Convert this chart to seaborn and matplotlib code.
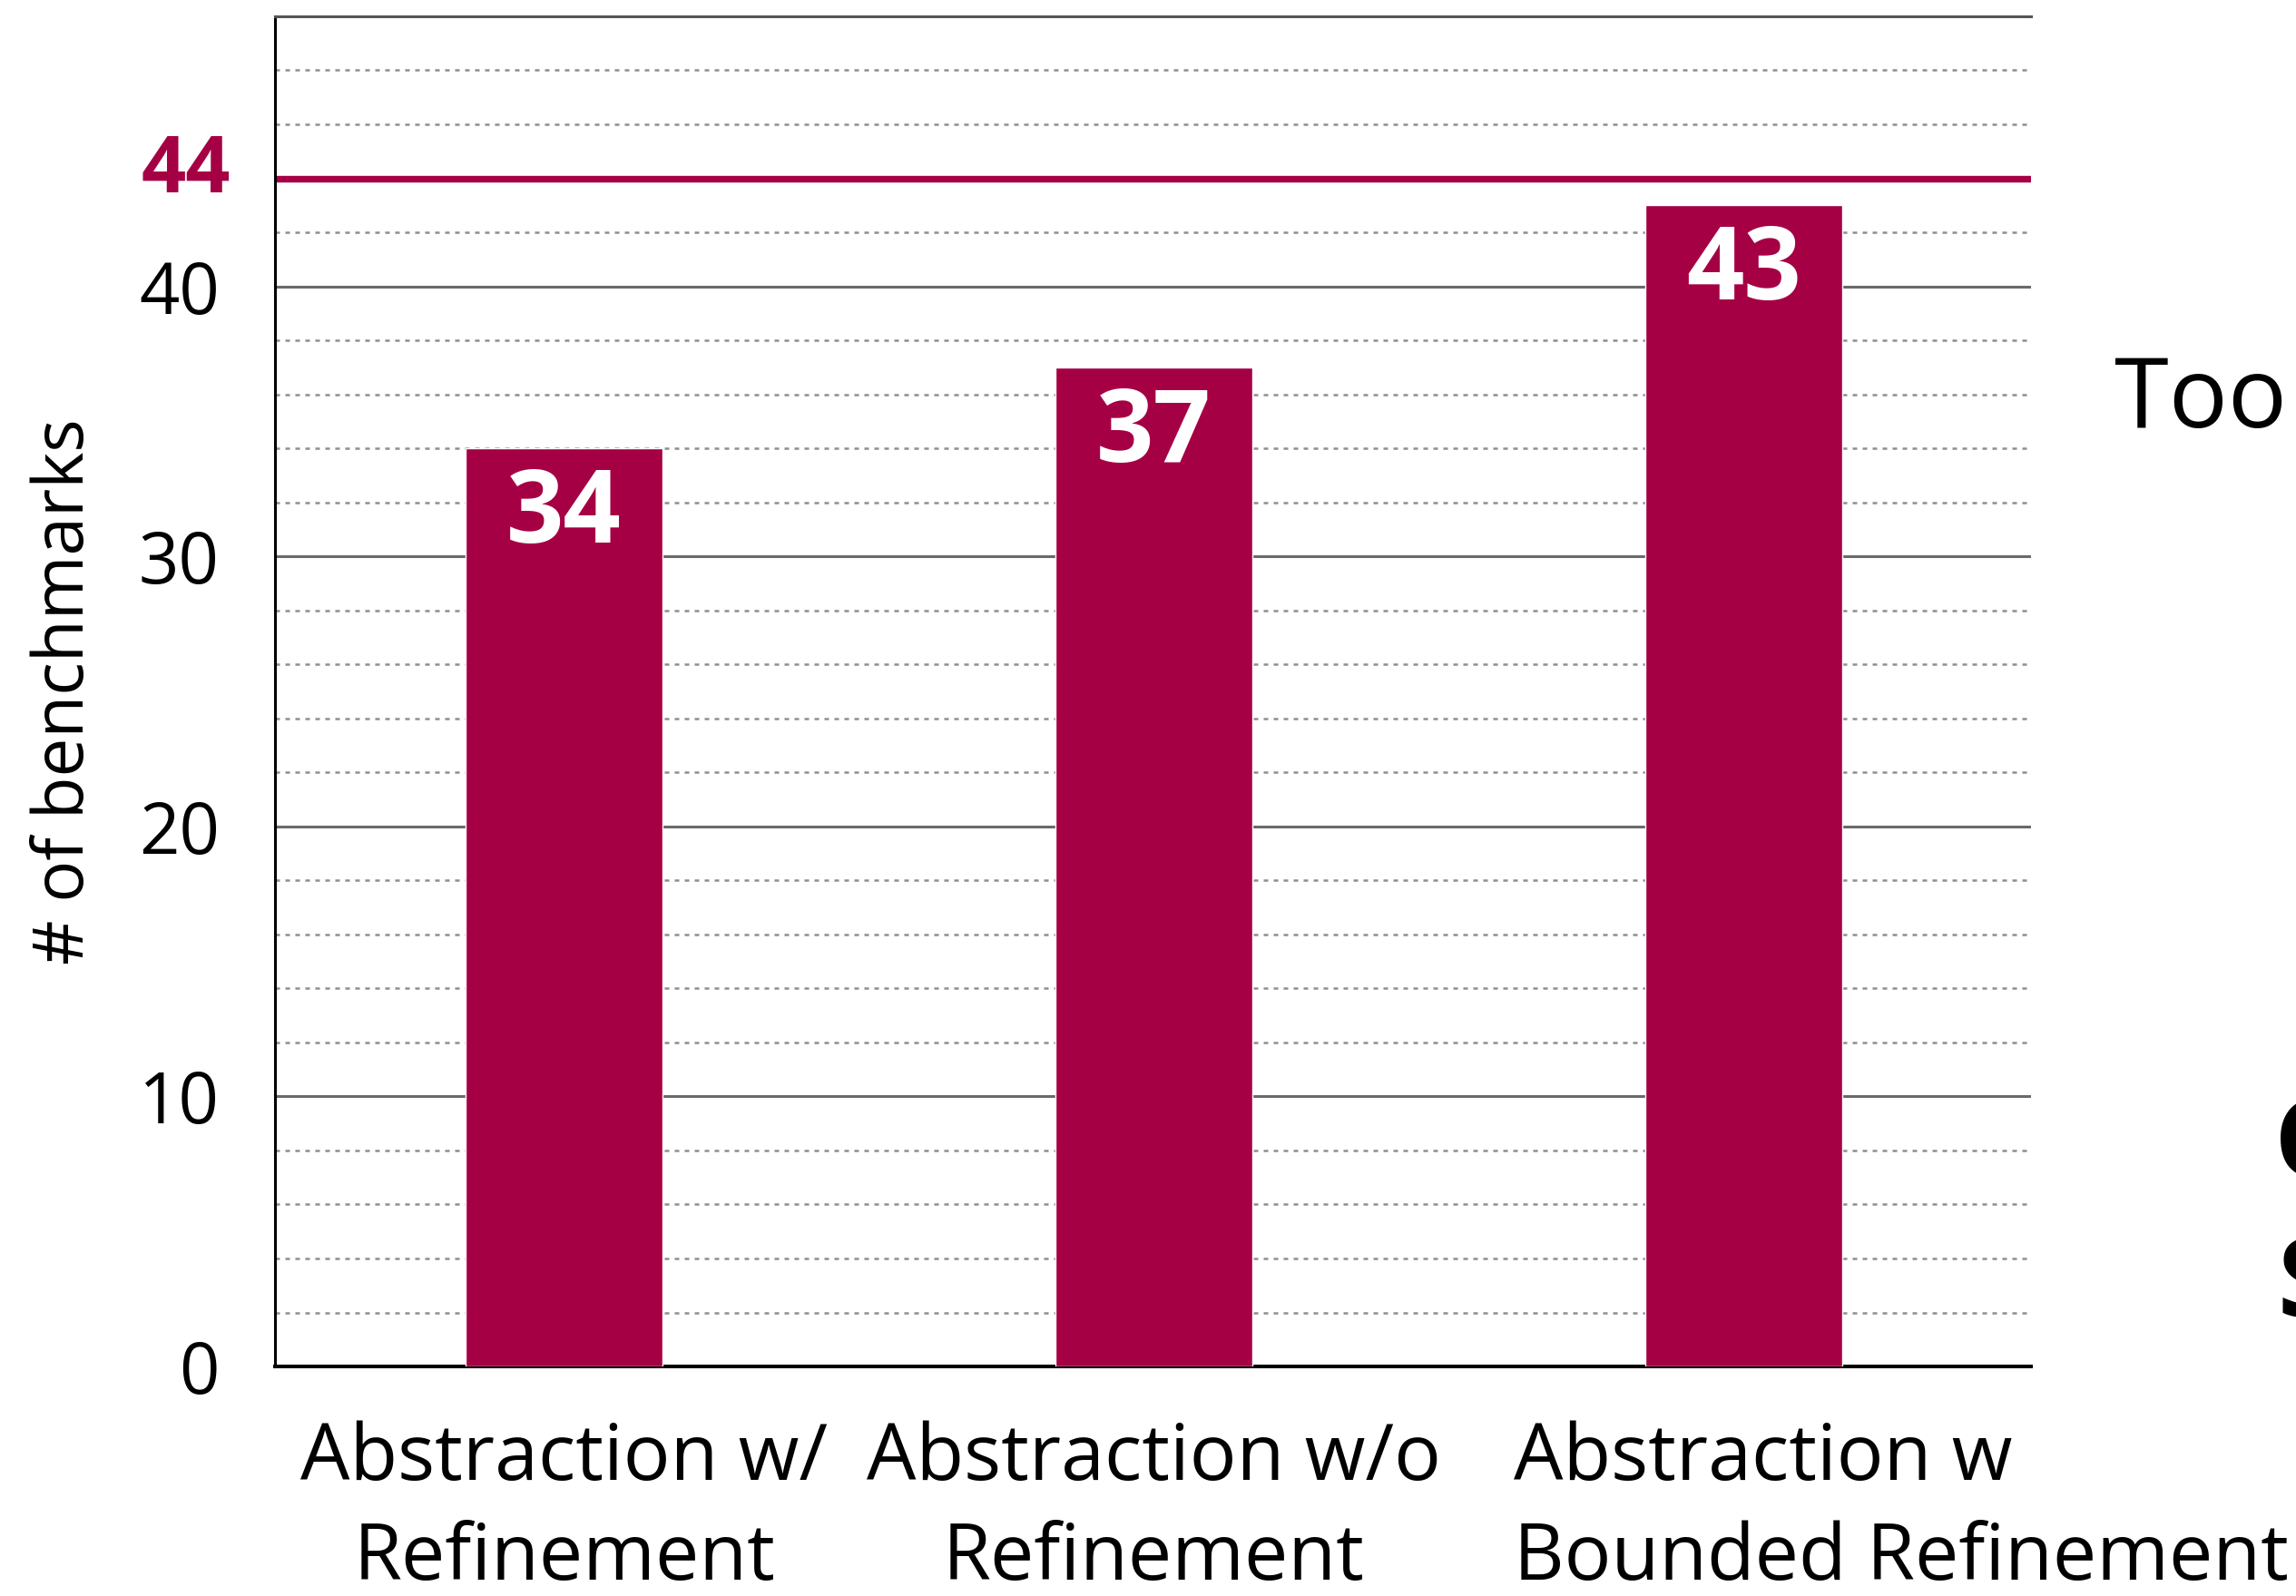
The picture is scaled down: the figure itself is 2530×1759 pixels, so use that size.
import matplotlib
matplotlib.use("Agg")
import matplotlib.pyplot as plt
import matplotlib.transforms as mtransforms
from matplotlib.ticker import FixedLocator, MultipleLocator
import pandas as pd
import seaborn as sns

# Benchmarks solved by each abstraction strategy
categories = [
    "Abstraction w/\nRefinement",
    "Abstraction w/o\nRefinement",
    "Abstraction w\nBounded Refinement",
]
benchmarks_solved = [34, 37, 43]
total_benchmarks = 44
y_major_ticks = [0, 10, 20, 30, 40]
y_limits = (0, 50)

CRIMSON = "#A60044"

sns.set_theme(style="white")
plt.rcParams["font.family"] = ["Open Sans", "DejaVu Sans"]

fig = plt.figure(figsize=(25.3, 17.59), dpi=100)
ax = fig.add_axes([0.1198, 0.1438, 0.7648, 0.8460])

df = pd.DataFrame({"approach": categories, "solved": benchmarks_solved})
sns.barplot(data=df, x="approach", y="solved", color=CRIMSON, saturation=1,
            width=0.334, ax=ax, zorder=3)

ax.set_xlim(-0.49, 2.487)
ax.set_ylim(*y_limits)
ax.yaxis.set_major_locator(FixedLocator(y_major_ticks))
ax.yaxis.set_minor_locator(MultipleLocator(2))

# horizontal guides: solid every 10, dotted every 2
ax.set_axisbelow(True)
ax.grid(axis="y", which="major", color="#6a6a6a", lw=2.2, ls="-")
ax.grid(axis="y", which="minor", color="#8f8f8f", lw=1.8, ls=(0, (2.0, 2.4)))
ax.grid(axis="x", visible=False)

# total number of benchmarks
ax.axhline(total_benchmarks, color=CRIMSON, lw=5.3, zorder=2.5)
ax.annotate(str(total_benchmarks), xy=(0, total_benchmarks),
            xycoords=ax.get_yaxis_transform(), xytext=(-35, 5),
            textcoords="offset points", ha="right", va="center",
            color=CRIMSON, fontsize=62, fontweight="bold")

# frame
ax.spines["right"].set_visible(False)
ax.spines["left"].set_visible(True)
ax.spines["left"].set_color("black")
ax.spines["left"].set_linewidth(2.2)
ax.spines["bottom"].set_visible(True)
ax.spines["bottom"].set_color("black")
ax.spines["bottom"].set_linewidth(2.9)
ax.spines["top"].set_visible(True)
ax.spines["top"].set_color("#555555")
ax.spines["top"].set_linewidth(2.2)

ax.tick_params(axis="both", which="both", length=0)
ax.tick_params(axis="y", labelsize=56, pad=44, colors="black")
ax.tick_params(axis="x", labelsize=62, pad=43, colors="black")
ax.set_xlabel("")
ax.set_ylabel("# of benchmarks", fontsize=55, color="black")
ax.yaxis.set_label_coords(-0.10, 0.5)

# value labels inside the bars
for bar, value in zip(ax.patches, benchmarks_solved):
    ax.annotate(f"{value}", xy=(bar.get_x() + bar.get_width() / 2, value),
                xytext=(0, -54), textcoords="offset points",
                ha="center", va="center", color="white",
                fontsize=80, fontweight="bold")

fig.canvas.draw()
for label in ax.get_xticklabels():
    label.set_linespacing(1.36)
last = ax.get_xticklabels()[2]
last.set_horizontalalignment("left")
last.set_multialignment("left")
last.set_transform(last.get_transform()
                   + mtransforms.ScaledTranslation(-2.54, 0, fig.dpi_scale_trans))

# words continuing beyond the right edge of the canvas
fig.text(0.921, 0.7322, "Too", fontsize=78, ha="left", va="baseline", color="black")
fig.text(0.9905, 0.2627, "C", fontsize=87, fontweight="bold", ha="left",
         va="baseline", color="black")
fig.text(0.9918, 0.1751, "S", fontsize=87, fontweight="bold", ha="left",
         va="baseline", color="black")

fig.savefig("out.png", dpi=100)
